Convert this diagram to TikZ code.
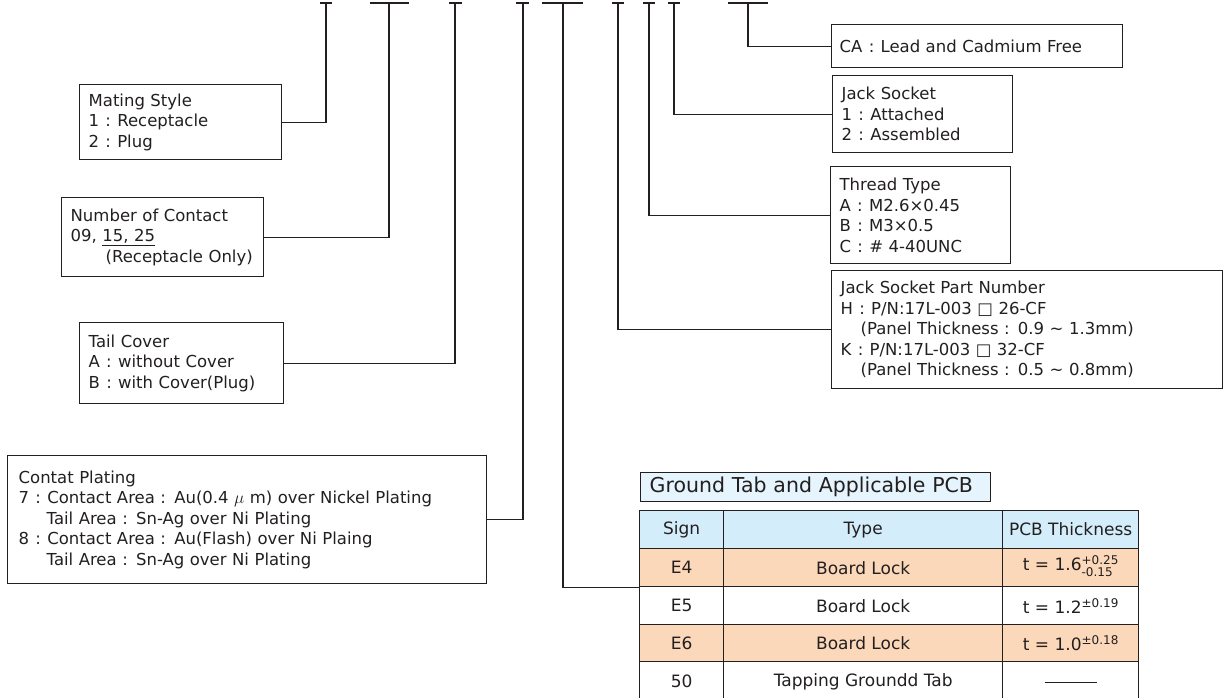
\documentclass[tikz,border=0pt]{standalone}
\usepackage{fontspec}
\setmainfont{DejaVu Sans}
\definecolor{lc}{RGB}{35,31,32}
\definecolor{hdr}{RGB}{212,237,250}
\definecolor{ttl}{RGB}{230,245,253}
\definecolor{peach}{RGB}{252,216,186}
\newcommand\fcolon{\makebox[1.1em]{:}}
\begin{document}
\begin{tikzpicture}[x=1pt,y=-1pt,
  ln/.style={draw=lc,line width=1.3pt},
  lbl/.style={draw=lc,line width=1.3pt,anchor=north west,align=left,inner xsep=9pt,inner ysep=0pt,text=lc,font=\fontsize{16.5}{20.5}\selectfont},
  cell/.style={draw=lc,line width=1.3pt,anchor=north west,inner sep=0pt,text=lc,font=\fontsize{17}{20}\selectfont},
  hcell/.style={cell,fill=hdr},
  pcell/.style={cell,fill=peach},
  wcell/.style={cell,fill=white}]
\useasboundingbox (0,0) rectangle (1225,697);
\clip (0,0) rectangle (1225,697);

% ---- description boxes ----
\node[lbl,text width=184pt,minimum width=202pt,minimum height=75pt] (mating) at (79,84)
  {Mating Style\\1\fcolon Receptacle\\2\fcolon Plug};
\node[lbl,text width=184pt,minimum width=202pt,minimum height=79pt] (contact) at (61,197)
  {Number of Contact\\09, \underline{15, 25}\\\hspace*{35pt}(Receptacle Only)};
\node[lbl,text width=186pt,minimum width=204pt,minimum height=81pt] (tail) at (79,322)
  {Tail Cover\\A\fcolon without Cover\\B\fcolon with Cover(Plug)};
\node[lbl,inner xsep=11pt,text width=457pt,minimum width=479pt,minimum height=128pt] (plating) at (7,455)
  {Contat Plating\\7\fcolon Contact Area : Au(0.4 $\mu$ m) over Nickel Plating\\\hspace*{28pt}Tail Area : Sn-Ag over Ni Plating\\8\fcolon Contact Area : Au(Flash) over Ni Plaing\\\hspace*{28pt}Tail Area : Sn-Ag over Ni Plating};
\node[lbl,inner xsep=8pt,text width=275pt,minimum width=291pt,minimum height=43pt] (ca) at (831,24)
  {CA\fcolon Lead and Cadmium Free};
\node[lbl,text width=162pt,minimum width=180pt,minimum height=77pt] (jack) at (832,75)
  {Jack Socket\\1\fcolon Attached\\2\fcolon Assembled};
\node[lbl,text width=162pt,minimum width=180pt,minimum height=97pt] (thread) at (830,166)
  {Thread Type\\A\fcolon M2.6×0.45\\B\fcolon M3×0.5\\C\fcolon \# 4-40UNC};
\node[lbl,text width=373pt,minimum width=391pt,minimum height=118pt] (partno) at (831,270)
  {Jack Socket Part Number\\H\fcolon P/N:17L-003 □ 26-CF\\\hspace*{20pt}(Panel Thickness : 0.9 ∼ 1.3mm)\\K\fcolon P/N:17L-003 □ 32-CF\\\hspace*{20pt}(Panel Thickness : 0.5 ∼ 0.8mm)};

% ---- table ----
\node[draw=lc,line width=1.3pt,fill=ttl,anchor=north west,inner xsep=9pt,inner ysep=0pt,text width=332pt,minimum width=350pt,minimum height=29pt,align=left,text=lc,font=\fontsize{20.5}{22}\selectfont] (title) at (640,472) {Ground Tab and Applicable PCB};

\node[hcell,minimum width=84pt,minimum height=38pt] (hs) at (639,510) {Sign};
\node[hcell,minimum width=279pt,minimum height=38pt] (ht) at (723,510) {Type};
\node[hcell,minimum width=136pt,minimum height=38pt] (hp) at (1002,510) {PCB Thickness};

\node[pcell,minimum width=84pt,minimum height=38pt] (e4s) at (639,548) {E4};
\node[pcell,minimum width=279pt,minimum height=38pt] (e4t) at (723,548) {Board Lock};
\node[pcell,minimum width=136pt,minimum height=38pt] (e4p) at (1002,548)
  {t = 1.6{\fontsize{12}{10}\selectfont\begin{tabular}[c]{@{}l@{}}+0.25\\-0.15\end{tabular}}};

\node[wcell,minimum width=84pt,minimum height=38pt] (e5s) at (639,586) {E5};
\node[wcell,minimum width=279pt,minimum height=38pt] (e5t) at (723,586) {Board Lock};
\node[wcell,minimum width=136pt,minimum height=38pt] (e5p) at (1002,586)
  {t = 1.2\raisebox{6pt}{\fontsize{12}{12}\selectfont ±0.19}};

\node[pcell,minimum width=84pt,minimum height=37pt] (e6s) at (639,624) {E6};
\node[pcell,minimum width=279pt,minimum height=37pt] (e6t) at (723,624) {Board Lock};
\node[pcell,minimum width=136pt,minimum height=37pt] (e6p) at (1002,624)
  {t = 1.0\raisebox{6pt}{\fontsize{12}{12}\selectfont ±0.18}};

\node[wcell,minimum width=84pt,minimum height=40pt] (g5s) at (639,661) {50};
\node[wcell,minimum width=279pt,minimum height=40pt] (g5t) at (723,661) {Tapping Groundd Tab};
\node[wcell,minimum width=136pt,minimum height=40pt] (g5p) at (1002,661) {};
\node[inner sep=0pt] (dash) at ([yshift=-1pt]g5p.center) {\color{lc}\rule{52pt}{1.2pt}};

% ---- tick marks ----
\foreach \a/\b/\n in {320/332/1,370/409/2,449/462/3,516/529/4,542/583/5,612/624/6,643/655/7,668/680/8,728/768/9}{
  \coordinate (ta\n) at (\a,3);
  \coordinate (tb\n) at (\b,3);
  \draw[ln] (ta\n) -- (tb\n);
}
\coordinate (t1) at (326,3);
\coordinate (t2) at (389,3);
\coordinate (t3) at (455,3);
\coordinate (t4) at (523,3);
\coordinate (t5) at (563,3);
\coordinate (t6) at (618,3);
\coordinate (t7) at (649,3);
\coordinate (t8) at (674,3);
\coordinate (t9) at (748,3);

% ---- connectors ----
\draw[ln] (t1) |- (mating.east);
\draw[ln] (t2) |- (contact.east);
\draw[ln] (t3) |- (tail.east);
\draw[ln] (t4) |- (plating.east);
\draw[ln] (t5) |- (e4s.south west);
\draw[ln] (t6) |- (partno.west);
\draw[ln] (t7) |- (thread.west);
\draw[ln] (t8) |- (jack.west);
\draw[ln] (t9) |- (ca.west);
\end{tikzpicture}
\end{document}
